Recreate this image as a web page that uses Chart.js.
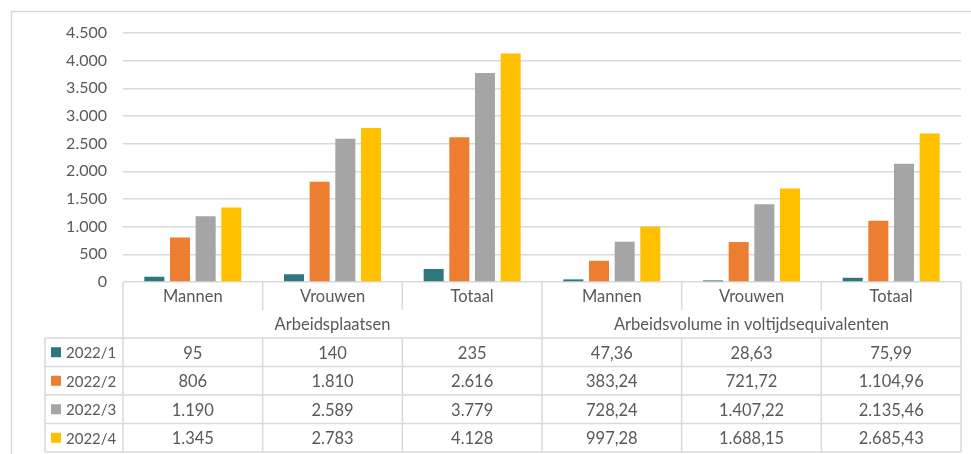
<!DOCTYPE html>
<html>
<head>
<meta charset="utf-8">
<script src="https://cdn.jsdelivr.net/npm/chart.js@4"></script>
<style>
  body { margin: 0; background: #fff; }
  #wrap { width: 971px; height: 454px; }
</style>
</head>
<body>
<div id="wrap"><canvas id="myChart" width="971" height="454"></canvas></div>
<script>
// categories and groups shown in the data table under the bars
var categories = ['Mannen', 'Vrouwen', 'Totaal', 'Mannen', 'Vrouwen', 'Totaal'];
var groups = ['Arbeidsplaatsen', 'Arbeidsvolume in voltijdsequivalenten'];
var groupDecimals = [0, 2];
var seriesLabels = ['2022/1', '2022/2', '2022/3', '2022/4'];
var q1 = [95, 140, 235, 47.36, 28.63, 75.99];
var q2 = [806, 1810, 2616, 383.24, 721.72, 1104.96];
var q3 = [1190, 2589, 3779, 728.24, 1407.22, 2135.46];
var q4 = [1345, 2783, 4128, 997.28, 1688.15, 2685.43];
var colors = ['#2E777B', '#ED7D31', '#A5A5A5', '#FFC000'];

var FONT = 'Lato, "Open Sans", sans-serif';
var TEXT = '#595959';
var LINE = '#D9D9D9';

// dutch number format: 1.234,56
function nl(v, dec) {
  var parts = v.toFixed(dec).split('.');
  parts[0] = parts[0].replace(/\B(?=(\d{3})+(?!\d))/g, '.');
  return parts.length > 1 ? parts[0] + ',' + parts[1] : parts[0];
}

var allSeries = [q1, q2, q3, q4];

//===========================================
//  plugin: outer frame + data table under the chart
//===========================================
var tablePlugin = {
  id: 'dataTable',
  beforeDraw: function(chart) {
    var c = chart.ctx;
    c.save();
    c.fillStyle = '#fff';
    c.fillRect(0, 0, chart.width, chart.height);
    c.strokeStyle = LINE;
    c.lineWidth = 1.5;
    c.beginPath();
    c.moveTo(11.5, chart.height);
    c.lineTo(11.5, 11.5);
    c.lineTo(chart.width, 11.5);
    c.stroke();
    c.restore();
  },
  afterDraw: function(chart) {
    var c = chart.ctx;
    var x = chart.scales.x;
    var area = chart.chartArea;
    var n = categories.length;
    var step = (area.right - area.left) / n;
    var top = area.bottom;
    var headH = 28;
    var rowH = 28.5;
    var rowsTop = top + headH * 2;
    var bottom = rowsTop + rowH * allSeries.length;
    var legendLeft = 45;

    c.save();
    c.strokeStyle = LINE;
    c.lineWidth = 1.5;
    c.beginPath();
    // horizontal lines of the value rows
    for (var r = 0; r <= allSeries.length; r++) {
      var yy = rowsTop + r * rowH;
      c.moveTo(legendLeft, yy);
      c.lineTo(area.right, yy);
    }
    // left edges
    c.moveTo(legendLeft, rowsTop);
    c.lineTo(legendLeft, bottom);
    c.moveTo(area.left, top);
    c.lineTo(area.left, bottom);
    // column dividers
    var perGroup = n / groups.length;
    for (var i = 1; i <= n; i++) {
      var bx = area.left + i * step;
      if (i % perGroup === 0) {
        c.moveTo(bx, top);
        c.lineTo(bx, bottom);
      } else {
        c.moveTo(bx, top);
        c.lineTo(bx, top + headH);
        c.moveTo(bx, rowsTop);
        c.lineTo(bx, bottom);
      }
    }
    c.stroke();

    c.fillStyle = TEXT;
    c.font = '16.5px ' + FONT;
    c.textAlign = 'center';
    c.textBaseline = 'middle';
    // category names
    for (var k = 0; k < n; k++) {
      c.fillText(categories[k], x.getPixelForValue(k), top + headH / 2 + 1);
    }
    // group names
    for (var g = 0; g < groups.length; g++) {
      var gx = area.left + (g + 0.5) * perGroup * step;
      c.fillText(groups[g], gx, top + headH * 1.5 + 1);
    }
    // values
    for (var s = 0; s < allSeries.length; s++) {
      var cy = rowsTop + (s + 0.5) * rowH + 1;
      c.font = '16.5px ' + FONT;
      for (var j = 0; j < n; j++) {
        var dec = groupDecimals[Math.floor(j / perGroup)];
        c.fillText(nl(allSeries[s][j], dec), x.getPixelForValue(j), cy);
      }
      // legend key
      c.fillStyle = colors[s];
      c.fillRect(51, cy - 6, 10, 10);
      c.fillStyle = TEXT;
      c.font = '15px ' + FONT;
      c.textAlign = 'left';
      c.fillText(seriesLabels[s], 66, cy);
      c.textAlign = 'center';
    }
    c.restore();
  }
};

var ctx = document.getElementById('myChart').getContext('2d');
var chart = new Chart(ctx, {
  type: 'bar',
  data: {
    labels: categories,
    datasets: [
      { label: seriesLabels[0], data: q1, backgroundColor: colors[0] },
      { label: seriesLabels[1], data: q2, backgroundColor: colors[1] },
      { label: seriesLabels[2], data: q3, backgroundColor: colors[2] },
      { label: seriesLabels[3], data: q4, backgroundColor: colors[3] }
    ]
  },
  options: {
    responsive: false,
    animation: false,
    devicePixelRatio: 1,
    layout: { padding: { top: 33, right: 10, bottom: 172, left: 0 } },
    datasets: { bar: { categoryPercentage: 0.735, barPercentage: 0.78 } },
    plugins: { legend: { display: false }, tooltip: { enabled: false } },
    scales: {
      x: { display: false },
      y: {
        min: 0,
        max: 4500,
        ticks: {
          stepSize: 500,
          padding: 16,
          color: TEXT,
          font: { family: FONT, size: 16 },
          callback: function(v) { return nl(v, 0); }
        },
        grid: { color: LINE, lineWidth: 1.5, drawTicks: false },
        border: { display: false },
        afterFit: function(scale) { scale.width = 123; }
      }
    }
  },
  plugins: [tablePlugin]
});
</script>
</body>
</html>
